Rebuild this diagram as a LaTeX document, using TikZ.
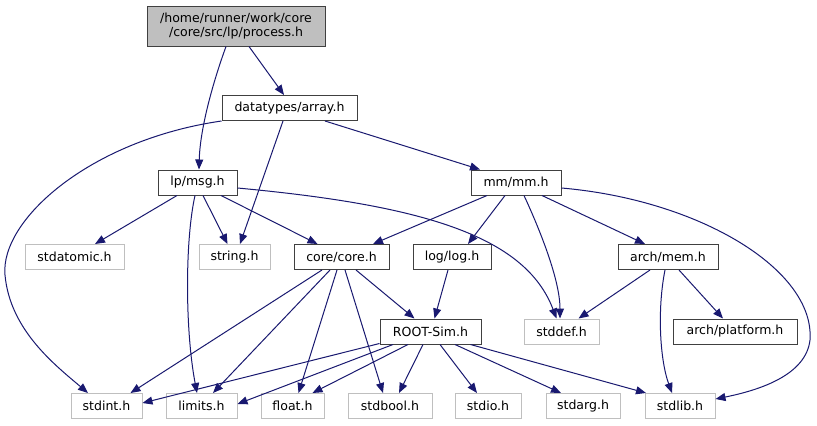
\documentclass[tikz,border=0pt]{standalone}
\usepackage{fontspec}
\setmainfont{DejaVu Sans}
\usetikzlibrary{arrows.meta,calc}
\definecolor{edgec}{HTML}{191970}
\definecolor{nodeb}{HTML}{404040}
\definecolor{sysb}{HTML}{BFBFBF}
\definecolor{rootfill}{HTML}{BFBFBF}
\begin{document}
\begin{tikzpicture}[x=0.75pt,y=-0.75pt,
  hbox/.style={rectangle, draw=nodeb, line width=0.75pt, inner sep=0pt,
    minimum height=25*0.75pt, font=\fontsize{9.4}{10.8}\selectfont},
  sbox/.style={hbox, draw=sysb},
  bw/.style={minimum width=#1*0.75pt},
  edge/.style={draw=edgec, line width=0.75pt, -{Triangle[length=7.5pt,width=6pt]}}]
\fill[white] (0,0) rectangle (817,425);
\useasboundingbox (0,0) rectangle (817,425);
% nodes
\node[hbox, fill=rootfill, bw=178, minimum height=40*0.75pt, align=center] (process) at (236,26) {/home/runner/work/core\\/core/src/lp/process.h};
\node[hbox, bw=135] (array) at (289.5,108) {datatypes/array.h};
\node[hbox, bw=79] (msg) at (197.5,182.5) {lp/msg.h};
\node[hbox, bw=90] (mm) at (516,182.5) {mm/mm.h};
\node[sbox, bw=99] (stdatomic) at (74.5,257) {stdatomic.h};
\node[sbox, bw=71] (string) at (234.5,257) {string.h};
\node[hbox, bw=95] (core) at (341.5,257) {core/core.h};
\node[hbox, bw=78] (log) at (452,257) {log/log.h};
\node[hbox, bw=100] (mem) at (668,257) {arch/mem.h};
\node[hbox, bw=101] (ROOT) at (430.5,331.5) {ROOT-Sim.h};
\node[sbox, bw=75] (stddef) at (561.5,331.5) {stddef.h};
\node[hbox, bw=124] (platform) at (735,331.5) {arch/platform.h};
\node[sbox, bw=71] (stdint) at (106.5,406) {stdint.h};
\node[sbox, bw=71] (limits) at (201.5,406) {limits.h};
\node[sbox, bw=63] (float) at (292.5,406) {float.h};
\node[sbox, bw=84] (stdbool) at (390,406) {stdbool.h};
\node[sbox, bw=66] (stdio) at (488,406) {stdio.h};
\node[sbox, bw=74] (stdarg) at (583,406) {stdarg.h};
\node[sbox, bw=70] (stdlib) at (680,406) {stdlib.h};
% edges
\draw[edge] ($(process.south)+(13,0)$) -- ($(array.north)+(-5.5,0)$);
\draw[edge] ($(process.south)+(-10,0)$) .. controls (212,85) and (200,130) .. ($(msg.north)+(1.5,0)$);
\draw[edge] (array.south west) .. controls (90,140) and (0,220) .. (5,275) .. controls (10,330) and (55,365) .. ($(stdint.north)+(-18.5,0)$);
\draw[edge] ($(array.south)+(-6.5,0)$) -- ($(string.north)+(5.5,0)$);
\draw[edge] ($(array.south)+(35.5,0)$) -- ($(mm.north)+(-36,0)$);
\draw[edge] ($(msg.south)+(-20.5,0)$) -- ($(stdatomic.north)+(20.5,0)$);
\draw[edge] ($(msg.south)+(5.5,0)$) -- ($(string.north)+(-7,0)$);
\draw[edge] ($(msg.south)+(23.5,0)$) -- ($(core.north)+(-24,0)$);
\draw[edge] ($(msg.east)+(0,5.5)$) .. controls (420,205) and (525,235) .. ($(stddef.north)+(-5,0)$);
\draw[edge] ($(msg.south)+(-2.5,0)$) .. controls (185,240) and (185,330) .. ($(limits.north)+(-4.5,0)$);
\draw[edge] ($(mm.south)+(-29,0)$) -- ($(core.north)+(31.5,0)$);
\draw[edge] ($(mm.south)+(-11,0)$) -- ($(log.north)+(16,0)$);
\draw[edge] ($(mm.south)+(8,0)$) .. controls (540,230) and (560,280) .. ($(stddef.north)+(-1.5,0)$);
\draw[edge] ($(mm.south)+(26,0)$) -- ($(mem.north)+(-23,0)$);
\draw[edge] ($(mm.east)+(0,5.5)$) .. controls (700,200) and (815,270) .. (810,340) .. controls (806,375) and (760,390) .. ($(stdlib.east)+(0,-7)$);
\draw[edge] ($(core.south)+(-19.5,0)$) -- ($(stdint.north)+(24,0)$);
\draw[edge] ($(core.south)+(-11.5,0)$) -- ($(limits.north)+(11.5,0)$);
\draw[edge] ($(core.south)+(-4.5,0)$) -- ($(float.north)+(6,0)$);
\draw[edge] ($(core.south)+(3.5,0)$) -- ($(stdbool.north)+(-7,0)$);
\draw[edge] ($(core.south)+(14.5,0)$) -- ($(ROOT.north)+(-16,0)$);
\draw[edge] ($(log.south)+(-4,0)$) -- ($(ROOT.north)+(4,0)$);
\draw[edge] ($(mem.south)+(-18,0)$) -- ($(stddef.north)+(17,0)$);
\draw[edge] ($(mem.south)+(11,0)$) -- ($(platform.north)+(-12,0)$);
\draw[edge] ($(mem.south)+(-3,0)$) .. controls (657,310) and (660,360) .. ($(stdlib.north)+(-8,0)$);
\draw[edge] ($(ROOT.south west)+(0,-1)$) -- ($(stdint.east)+(0,-3)$);
\draw[edge] ($(ROOT.south)+(-37.5,0)$) -- ($(limits.east)+(0,-2)$);
\draw[edge] ($(ROOT.south)+(-22.5,0)$) -- ($(float.north)+(20,0)$);
\draw[edge] ($(ROOT.south)+(-7.5,0)$) -- ($(stdbool.north)+(9,0)$);
\draw[edge] ($(ROOT.south)+(9.5,0)$) -- ($(stdio.north)+(-11,0)$);
\draw[edge] ($(ROOT.south)+(24.5,0)$) -- ($(stdarg.north)+(-22,0)$);
\draw[edge] ($(ROOT.south)+(40,0)$) -- ($(stdlib.north)+(-34,0)$);
\end{tikzpicture}
\end{document}
